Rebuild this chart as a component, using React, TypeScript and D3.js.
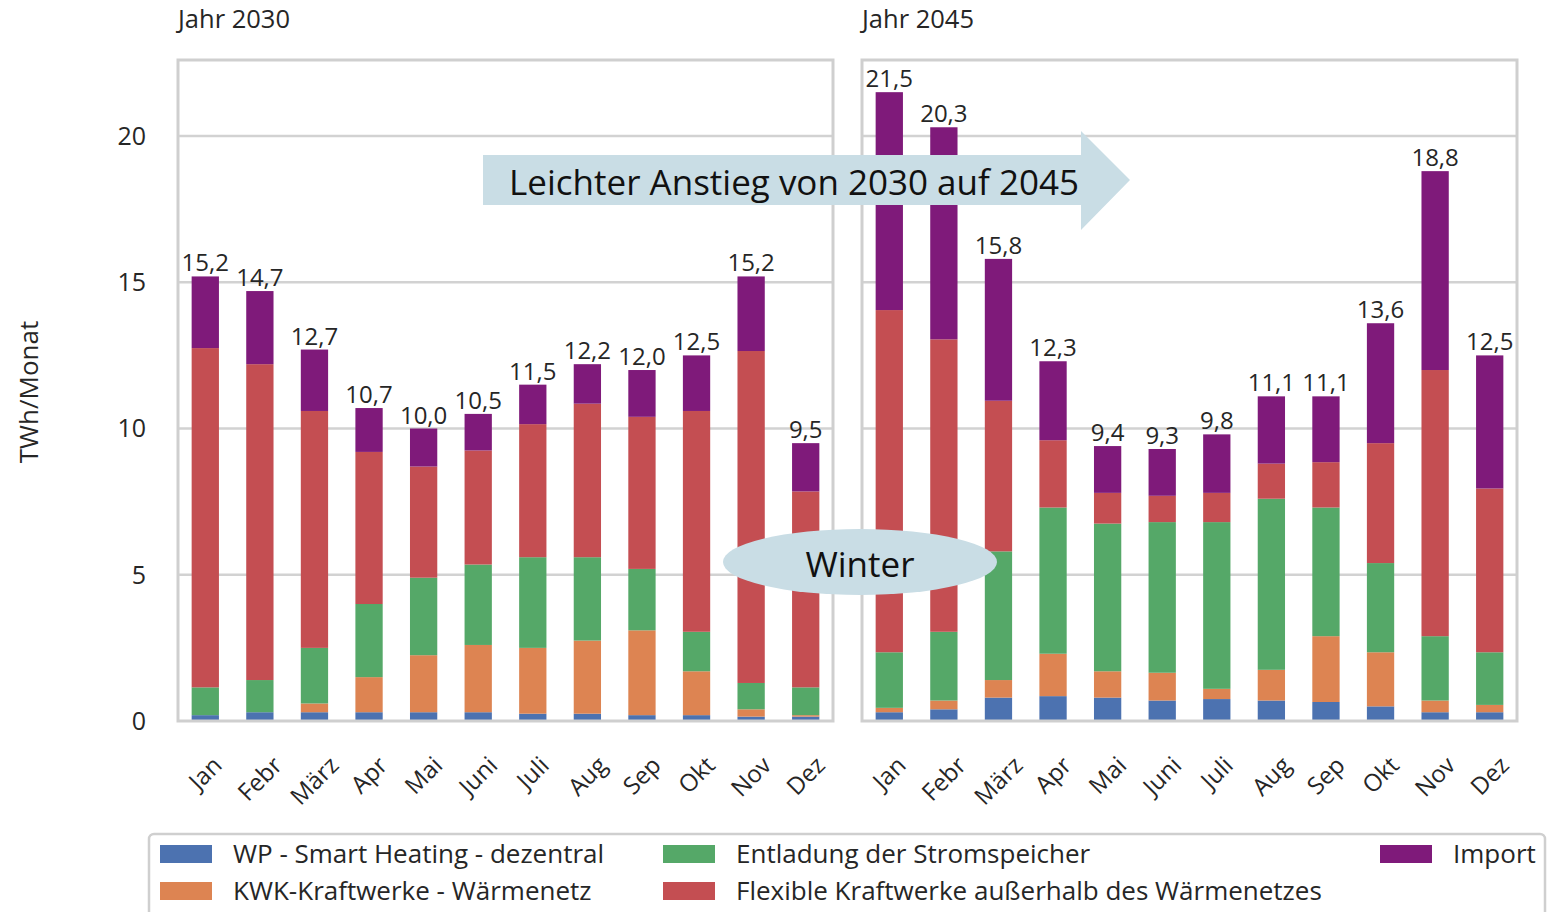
import React from "react";
import * as d3 from "d3";

const months = ["Jan", "Febr", "März", "Apr", "Mai", "Juni", "Juli", "Aug", "Sep", "Okt", "Nov", "Dez"];
const years = ["2030", "2045"];
const seriesKeys = ["wp", "kwk", "speicher", "flex", "import"];
const seriesNames = [
  "WP - Smart Heating - dezentral",
  "KWK-Kraftwerke - Wärmenetz",
  "Entladung der Stromspeicher",
  "Flexible Kraftwerke außerhalb des Wärmenetzes",
  "Import",
];
const seriesColors = ["#4c72b0", "#dd8452", "#55a868", "#c44e52", "#7f1a7a"];

// 2030 values (TWh/Monat)
const wp2030 = [0.2, 0.3, 0.3, 0.3, 0.3, 0.3, 0.25, 0.25, 0.2, 0.2, 0.15, 0.15];
const kwk2030 = [0.0, 0.0, 0.3, 1.2, 1.95, 2.3, 2.25, 2.5, 2.9, 1.5, 0.25, 0.05];
const speicher2030 = [0.95, 1.1, 1.9, 2.5, 2.65, 2.75, 3.1, 2.85, 2.1, 1.35, 0.9, 0.95];
const flex2030 = [11.6, 10.8, 8.1, 5.2, 3.8, 3.9, 4.55, 5.25, 5.2, 7.55, 11.35, 6.7];
const import2030 = [2.45, 2.5, 2.1, 1.5, 1.3, 1.25, 1.35, 1.35, 1.6, 1.9, 2.55, 1.65];
const total2030 = ["15,2", "14,7", "12,7", "10,7", "10,0", "10,5", "11,5", "12,2", "12,0", "12,5", "15,2", "9,5"];

// 2045 values (TWh/Monat)
const wp2045 = [0.3, 0.4, 0.8, 0.85, 0.8, 0.7, 0.75, 0.7, 0.65, 0.5, 0.3, 0.3];
const kwk2045 = [0.15, 0.3, 0.6, 1.45, 0.9, 0.95, 0.35, 1.05, 2.25, 1.85, 0.4, 0.25];
const speicher2045 = [1.9, 2.35, 4.4, 5.0, 5.05, 5.15, 5.7, 5.85, 4.4, 3.05, 2.2, 1.8];
const flex2045 = [11.7, 10.0, 5.15, 2.3, 1.05, 0.9, 1.0, 1.2, 1.55, 4.1, 9.1, 5.6];
const import2045 = [7.45, 7.25, 4.85, 2.7, 1.6, 1.6, 2.0, 2.3, 2.25, 4.1, 6.8, 4.55];
const total2045 = ["21,5", "20,3", "15,8", "12,3", "9,4", "9,3", "9,8", "11,1", "11,1", "13,6", "18,8", "12,5"];

const yTicks = [0, 5, 10, 15, 20];

const FONT = "'Open Sans', 'Noto Sans', sans-serif";
const TXT = "#262626";

const W = 1562;
const H = 912;
const TOP = 60;
const BOTTOM = 721;
const panels = [
  { x0: 178, x1: 833 },
  { x0: 862, x1: 1517 },
];

function buildRows(wp: number[], kwk: number[], sp: number[], fl: number[], im: number[]) {
  return months.map((m, i) => ({ month: m, wp: wp[i], kwk: kwk[i], speicher: sp[i], flex: fl[i], import: im[i] }));
}

const datasets = [
  { year: years[0], rows: buildRows(wp2030, kwk2030, speicher2030, flex2030, import2030), totals: total2030 },
  { year: years[1], rows: buildRows(wp2045, kwk2045, speicher2045, flex2045, import2045), totals: total2045 },
];

let measureCtx: CanvasRenderingContext2D | null = null;
function textWidth(t: string, size: number) {
  if (!measureCtx) {
    const c = document.createElement("canvas");
    measureCtx = c.getContext("2d");
  }
  if (!measureCtx) return t.length * size * 0.55;
  measureCtx.font = `${size}px 'Open Sans'`;
  return measureCtx.measureText(t).width;
}

export default function App() {
  const y = d3.scaleLinear().domain([0, 22.6]).range([BOTTOM, TOP]);
  const stack = d3.stack<any>().keys(seriesKeys);

  const xLabelSize = 24;

  return (
    <svg
      width={W}
      height={H}
      style={{ position: "absolute", left: 0, top: 0, background: "#fff" }}
      fontFamily={FONT}
    >
      <rect x={0} y={0} width={W} height={H} fill="#fff" />
      {/* y axis label */}
      <text
        transform={`translate(38,392) rotate(-90)`}
        textAnchor="middle"
        fontSize={26}
        fill={TXT}
      >
        TWh/Monat
      </text>
      {/* y tick labels */}
      {yTicks.map((t) => (
        <text key={t} x={146} y={y(t)} dy="0.35em" textAnchor="end" fontSize={25} fill={TXT}>
          {t}
        </text>
      ))}
      {datasets.map((ds, pi) => {
        const p = panels[pi];
        const x = d3
          .scaleBand()
          .domain(months)
          .range([p.x0, p.x1])
          .paddingInner(0.5)
          .paddingOuter(0.25);
        const stacked = stack(ds.rows);
        return (
          <g key={ds.year}>
            <text x={p.x0} y={28} fontSize={25.5} fill={TXT}>
              {`Jahr ${ds.year}`}
            </text>
            <rect x={p.x0} y={TOP} width={p.x1 - p.x0} height={BOTTOM - TOP} fill="#fff" />
            {yTicks
              .filter((t) => t > 0)
              .map((t) => (
                <line key={t} x1={p.x0} x2={p.x1} y1={y(t)} y2={y(t)} stroke="#d2d2d2" strokeWidth={2.5} />
              ))}
            {stacked.map((layer, si) => (
              <g key={layer.key} fill={seriesColors[si]}>
                {layer.map((d, i) => (
                  <rect
                    key={i}
                    x={x(months[i])}
                    y={y(d[1])}
                    width={x.bandwidth()}
                    height={Math.max(0, y(d[0]) - y(d[1]))}
                  />
                ))}
              </g>
            ))}
            {ds.rows.map((r, i) => {
              const tot = r.wp + r.kwk + r.speicher + r.flex + r.import;
              return (
                <text
                  key={"v" + i}
                  x={(x(months[i]) as number) + x.bandwidth() / 2}
                  y={y(tot) - 5}
                  textAnchor="middle"
                  fontSize={24}
                  fill={TXT}
                >
                  {ds.totals[i]}
                </text>
              );
            })}
            <rect
              x={p.x0}
              y={TOP}
              width={p.x1 - p.x0}
              height={BOTTOM - TOP}
              fill="none"
              stroke="#cfcfcf"
              strokeWidth={3}
            />
            {months.map((m) => {
              const cx = (x(m) as number) + x.bandwidth() / 2;
              const w = textWidth(m, xLabelSize);
              const h = xLabelSize * 1.05;
              const cy = 752 + (w + h) / (2 * Math.SQRT2);
              return (
                <text
                  key={"x" + m}
                  x={cx}
                  y={cy}
                  dy="0.35em"
                  textAnchor="middle"
                  fontSize={xLabelSize}
                  fill={TXT}
                  transform={`rotate(-45 ${cx} ${cy})`}
                >
                  {m}
                </text>
              );
            })}
          </g>
        );
      })}

      {/* arrow annotation */}
      <path d="M483,155 L1081,155 L1081,131 L1130,180 L1081,230 L1081,205 L483,205 Z" fill="#c9dde5" />
      <text x={794} y={195} textAnchor="middle" fontSize={35} fill="#111">
        Leichter Anstieg von 2030 auf 2045
      </text>

      {/* winter ellipse */}
      <ellipse cx={860} cy={562} rx={137} ry={33} fill="#c9dde5" />
      <text x={860} y={577} textAnchor="middle" fontSize={35} fill="#111">
        Winter
      </text>

      {/* legend */}
      <rect x={149} y={834} width={1396} height={100} rx={5} fill="#fff" stroke="#cfcfcf" strokeWidth={2.5} />
      {seriesNames.map((name, i) => {
        const pos = [
          { sx: 160, row: 0 },
          { sx: 160, row: 1 },
          { sx: 663, row: 0 },
          { sx: 663, row: 1 },
          { sx: 1380, row: 0 },
        ][i];
        const top = pos.row === 0 ? 845 : 882;
        return (
          <g key={name}>
            <rect x={pos.sx} y={top} width={52} height={18} fill={seriesColors[i]} />
            <text x={pos.sx + 73} y={top + 18} fontSize={26} fill={TXT}>
              {name}
            </text>
          </g>
        );
      })}
    </svg>
  );
}
